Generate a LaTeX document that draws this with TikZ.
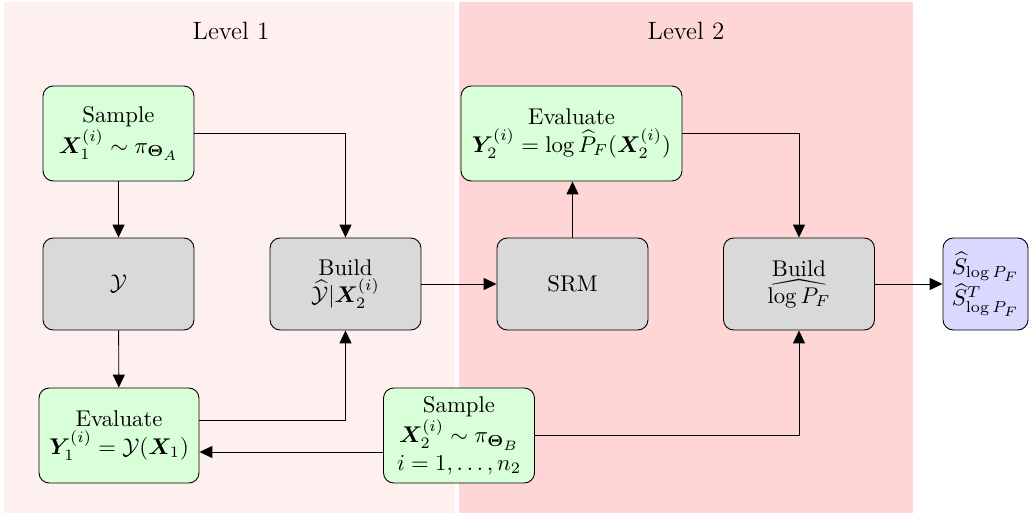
\documentclass[tikz,border=0pt]{standalone}
\usepackage{amsmath,amssymb,bm}
\DeclareMathSizes{10}{10}{7}{6}
\usetikzlibrary{arrows.meta}
\begin{document}
\begin{tikzpicture}[x=0.4395pt,y=-0.4395pt,
  box/.style={draw, rounded corners=4.5pt, align=center, inner sep=0pt, line width=0.4pt},
  gbox/.style={box, fill=green!15, minimum width=151*0.4395pt, minimum height=95*0.4395pt},
  graybox/.style={box, fill=gray!30, minimum width=151*0.4395pt, minimum height=92*0.4395pt},
  bbox/.style={box, fill=blue!15, minimum width=85*0.4395pt, minimum height=92*0.4395pt},
  arr/.style={-{Triangle[length=5.7pt,width=5.3pt]}, line width=0.4pt},
  lvl/.style={font=\fontsize{11}{13}\selectfont}]
\useasboundingbox (0,0) rectangle (1030,513);
\fill[red!6] (4,2) rectangle (455,513);
\fill[red!16] (459,2) rectangle (913,513);
\node[lvl] (L1) at (231,31) {Level 1};
\node[lvl] (L2) at (686,31) {Level 2};

\node[gbox] (sA) at (118.5,133.5) {Sample\\$\bm{X}_1^{(i)}\sim\pi_{\bm{\Theta}_A}$};
\node[graybox] (Y) at (118.5,284) {$\mathcal{Y}$};
\node[graybox] (bY) at (345.5,284) {Build\\$\widehat{\mathcal{Y}}|\bm{X}_2^{(i)}$};
\node[graybox] (srm) at (572.5,284) {SRM};
\node[graybox] (bL) at (799,284) {Build\\$\widehat{\log P_F}$};
\node[bbox] (S) at (985.5,284) {$\widehat{S}_{\log P_F}$\\$\widehat{S}^T_{\log P_F}$};
\node[gbox, minimum width=221*0.4395pt] (eY2) at (571.5,133.5) {Evaluate\\$\bm{Y}_2^{(i)}=\log\widehat{P}_F(\bm{X}_2^{(i)})$};
\node[gbox, minimum width=160*0.4395pt] (eY1) at (119,435.5) {Evaluate\\$\bm{Y}_1^{(i)}=\mathcal{Y}(\bm{X}_1)$};
\node[gbox] (sB) at (459,435.5) {Sample\\$\bm{X}_2^{(i)}\sim\pi_{\bm{\Theta}_B}$\\$i=1,\ldots,n_2$};

\coordinate (c1) at (345.5,133.5);
\coordinate (c2) at (345.5,420);
\coordinate (c3) at (799,133.5);
\coordinate (c4) at (799,435.5);

\draw[arr] (sA) -- (Y);
\draw[arr] (sA.east |- c1) -- (c1) -- (bY);
\draw[arr] (Y) -- (eY1);
\draw[arr] (eY1.east |- c2) -- (c2) -- (bY);
\draw[arr] (bY) -- (srm);
\draw[arr] (srm) -- (eY2.south -| srm);
\draw[arr] (eY2.east |- c3) -- (c3) -- (bL);
\draw[arr] (sB.east |- c4) -- (c4) -- (bL);
\draw[arr] (sB.west |- 0,452) -- (eY1.east |- 0,452);
\draw[arr] (bL) -- (S);
\end{tikzpicture}
\end{document}
